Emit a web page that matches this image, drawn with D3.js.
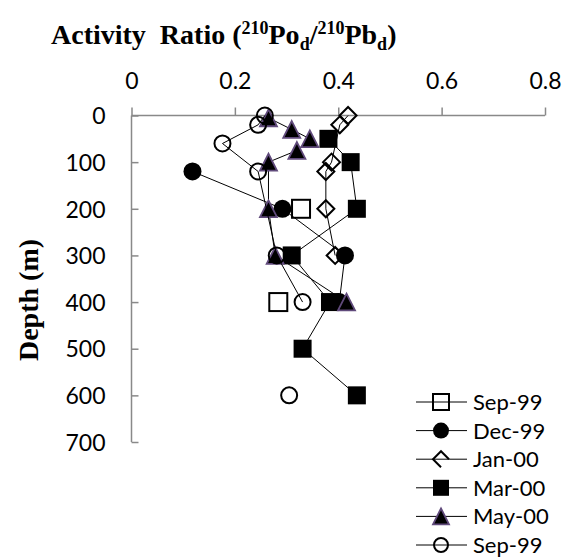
<!DOCTYPE html>
<html><head><meta charset="utf-8">
<script src="https://cdn.jsdelivr.net/npm/d3@7/dist/d3.min.js"></script>
<style>body{margin:0;background:#fff}</style>
</head><body>
<script>
// ---- data ----
const seriesNames = ["Sep-99", "Dec-99", "Jan-00", "Mar-00", "May-00", "Sep-99"];
const sep99aDepth = [200, 300, 400];
const sep99aRatio = [0.328, null, 0.284];
const dec99Depth = [120, 200, 300, 400];
const dec99Ratio = [0.118, 0.292, 0.413, 0.402];
const jan00Depth = [0, 20, 100, 120, 200, 300];
const jan00Ratio = [0.419, 0.403, 0.387, 0.376, 0.376, 0.394];
const mar00Depth = [50, 100, 200, 300, 400, 500, 600];
const mar00Ratio = [0.381, 0.424, 0.436, 0.310, 0.384, 0.331, 0.436];
const may00Depth = [5, 30, 50, 75, 100, 200, 300, 400];
const may00Ratio = [0.265, 0.310, 0.345, 0.320, 0.265, 0.265, 0.278, 0.416];
const sep99bDepth = [0, 20, 60, 120, 300, 400, 500, 600];
const sep99bRatio = [0.258, 0.245, 0.176, 0.245, 0.281, 0.331, null, 0.305];
const xTicks = [0, 0.2, 0.4, 0.6, 0.8];
const yTicks = [0, 100, 200, 300, 400, 500, 600, 700];

const W = 574, H = 559;
const svg = d3.select("body").append("svg").attr("width", W).attr("height", H);
const x = d3.scaleLinear().domain([0, 0.8]).range([131.5, 545]);
const y = d3.scaleLinear().domain([0, 700]).range([115.5, 442]);
const tickFont = "Lato, 'Open Sans', sans-serif";
const serif = "'Liberation Serif', 'Times New Roman', serif";
const axisCol = "#898989";

// title
const t = svg.append("text").attr("x", 51).attr("y", 44)
  .attr("font-family", serif).attr("font-weight", "bold").attr("font-size", 28).attr("fill", "#000");
t.append("tspan").text("Activity\u00a0\u00a0Ratio (");
t.append("tspan").attr("font-size", 18).attr("dy", -10).text("210");
t.append("tspan").attr("dy", 10).text("Po");
t.append("tspan").attr("font-size", 18).attr("dy", 6).text("d");
t.append("tspan").attr("dy", -6).text("/");
t.append("tspan").attr("font-size", 18).attr("dy", -10).text("210");
t.append("tspan").attr("dy", 10).text("Pb");
t.append("tspan").attr("font-size", 18).attr("dy", 6).text("d");
t.append("tspan").attr("dy", -6).text(")");

// y label
svg.append("text").attr("transform", "translate(38,300) rotate(-90)")
  .attr("text-anchor", "middle").attr("font-family", serif).attr("font-weight", "bold")
  .attr("font-size", 28).text("Depth (m)");

// axes
const xAxis = d3.axisTop(x).tickValues(xTicks).tickSize(8).tickPadding(19)
  .tickFormat(d => d === 0 ? "0" : d3.format(".1f")(d));
const gx = svg.append("g").attr("transform", `translate(0,${y(0)})`).call(xAxis);
const yAxis = d3.axisRight(y).tickValues(yTicks).tickSize(7).tickFormat(d => d);
const gy = svg.append("g").attr("transform", `translate(${x(0)},0)`).call(yAxis);
[gx, gy].forEach(g => {
  g.select(".domain").attr("stroke", axisCol).attr("stroke-width", 1.5);
  g.selectAll(".tick line").attr("stroke", axisCol).attr("stroke-width", 1.5);
  g.selectAll(".tick text").attr("font-family", tickFont).attr("font-size", 23).attr("fill", "#000");
});
gy.selectAll(".tick text").attr("text-anchor", "end").attr("x", -26).attr("dy", "0.36em");
gx.select(".domain").attr("d", `M${x(0)},0H${x(0.8)}`);
gy.select(".domain").attr("d", `M0,${y(0)}V${y(700)}`);

// marker drawing
function marker(g, type, s) {
  const h = s / 2;
  if (type === "sqOpen") return g.append("rect").attr("x", -h).attr("y", -h).attr("width", s).attr("height", s)
    .attr("fill", "none").attr("stroke", "#000").attr("stroke-width", 2);
  if (type === "sqFill") return g.append("rect").attr("x", -h).attr("y", -h).attr("width", s).attr("height", s)
    .attr("fill", "#000");
  if (type === "cirFill") return g.append("circle").attr("r", h).attr("fill", "#000");
  if (type === "cirOpen") return g.append("circle").attr("r", h - 1).attr("fill", "none").attr("stroke", "#000").attr("stroke-width", 2);
  if (type === "diamond") return g.append("path").attr("d", `M0,${-h}L${h},0L0,${h}L${-h},0Z`)
    .attr("fill", "none").attr("stroke", "#000").attr("stroke-width", 2);
  if (type === "halfDiamond") return g.append("path").attr("d", `M0,${h}L${-h},0L0,${-h}L${h},0`)
    .attr("fill", "none").attr("stroke", "#000").attr("stroke-width", 2);
  if (type === "tri") {
    const th = s * 0.87;
    return g.append("path").attr("d", `M0,${-th / 2 - 1}L${h},${th / 2 + 1}L${-h},${th / 2 + 1}Z`)
      .attr("fill", "#000").attr("stroke", "#604a7b").attr("stroke-width", 1.8).attr("stroke-linejoin", "miter");
  }
}

const series = [
  { name: seriesNames[0], d: sep99aDepth, v: sep99aRatio, m: "sqOpen", lm: "sqOpen", s: 18 },
  { name: seriesNames[1], d: dec99Depth, v: dec99Ratio, m: "cirFill", lm: "cirFill", s: 18 },
  { name: seriesNames[2], d: jan00Depth, v: jan00Ratio, m: "diamond", lm: "halfDiamond", s: 17 },
  { name: seriesNames[3], d: mar00Depth, v: mar00Ratio, m: "sqFill", lm: "sqFill", s: 18 },
  { name: seriesNames[4], d: may00Depth, v: may00Ratio, m: "tri", lm: "tri", s: 17 },
  { name: seriesNames[5], d: sep99bDepth, v: sep99bRatio, m: "cirOpen", lm: "cirOpen", s: 18 }
];

const line = d3.line().defined(p => p.v !== null).x(p => x(p.v)).y(p => y(p.d));
const plot = svg.append("g");
series.forEach(se => {
  const pts = se.d.map((d, i) => ({ d, v: se.v[i] }));
  plot.append("path").datum(pts).attr("d", line).attr("fill", "none").attr("stroke", "#000").attr("stroke-width", 1);
  pts.filter(p => p.v !== null).forEach(p => {
    const g = plot.append("g").attr("transform", `translate(${x(p.v)},${y(p.d)})`);
    marker(g, se.m, se.s);
  });
});

// legend
const leg = svg.append("g");
series.forEach((se, i) => {
  const ly = 402 + i * 28.6;
  leg.append("line").attr("x1", 416).attr("x2", 467).attr("y1", ly).attr("y2", ly)
    .attr("stroke", "#000").attr("stroke-width", 1);
  const g = leg.append("g").attr("transform", `translate(441,${ly})`);
  marker(g, se.lm, 16);
  leg.append("text").attr("x", 473).attr("y", ly).attr("dy", "0.36em")
    .attr("font-family", tickFont).attr("font-size", 22).text(se.name);
});
</script>
</body></html>
